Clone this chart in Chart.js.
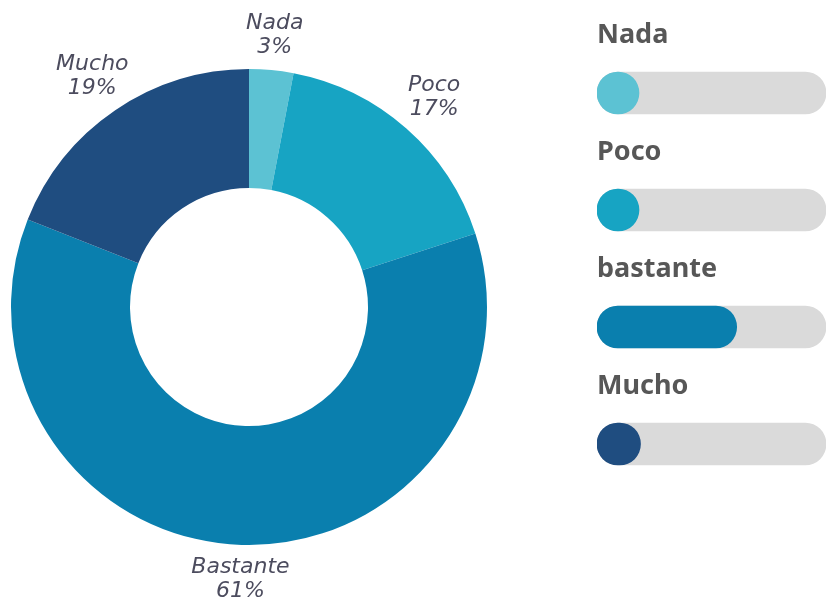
<!DOCTYPE html>
<html>
<head>
<meta charset="utf-8">
<script src="https://cdn.jsdelivr.net/npm/chart.js@4.4.1/dist/chart.umd.min.js"></script>
<style>
  html, body { margin: 0; padding: 0; background: #fff; }
  #wrap { position: relative; width: 826px; height: 600px; overflow: hidden; }
  #donut { position: absolute; left: 0; top: 0; }
  #bars { position: absolute; left: 597px; top: 0; }
</style>
</head>
<body>
<div id="wrap">
  <canvas id="donut" width="500" height="600"></canvas>
  <canvas id="bars" width="229" height="600"></canvas>
</div>
<script>
// Survey answers (percent)
const categories = ['Nada', 'Poco', 'Bastante', 'Mucho'];
const barLabels = ['Nada', 'Poco', 'bastante', 'Mucho'];
const percentages = [3, 17, 61, 19];
const colors = ['#5cc2d3', '#17a4c3', '#0a7fae', '#1f4d80'];
const trackValues = [100, 100, 100, 100];

// labels around the ring, placed at each slice's mid angle
const outsideLabels = {
  id: 'outsideLabels',
  afterDatasetsDraw(chart) {
    const ctx = chart.ctx;
    const meta = chart.getDatasetMeta(0);
    ctx.save();
    ctx.font = 'oblique 22px "DejaVu Sans", sans-serif';
    ctx.fillStyle = '#4c4c5e';
    ctx.textAlign = 'center';
    ctx.textBaseline = 'middle';
    meta.data.forEach((arc, i) => {
      const mid = (arc.startAngle + arc.endAngle) / 2;
      const r = arc.outerRadius + 34 + Math.abs(Math.cos(mid)) * 12;
      const x = arc.x + Math.cos(mid) * r;
      const y = arc.y + Math.sin(mid) * r;
      ctx.fillText(categories[i], x, y - 12);
      ctx.fillText(percentages[i] + '%', x, y + 12);
    });
    ctx.restore();
  }
};

new Chart(document.getElementById('donut'), {
  type: 'doughnut',
  data: {
    labels: categories,
    datasets: [{
      data: percentages,
      backgroundColor: colors,
      borderWidth: 0
    }]
  },
  options: {
    responsive: false,
    animation: false,
    cutout: '50%',
    layout: { padding: { left: 11, right: 13, top: 69, bottom: 55 } },
    plugins: { legend: { display: false }, tooltip: { enabled: false } }
  },
  plugins: [outsideLabels]
});

// category names written above each progress bar
const barTitles = {
  id: 'barTitles',
  afterDatasetsDraw(chart) {
    const ctx = chart.ctx;
    const meta = chart.getDatasetMeta(0);
    ctx.save();
    ctx.font = 'bold 27px "Noto Sans", sans-serif';
    ctx.fillStyle = '#575757';
    ctx.textAlign = 'left';
    ctx.textBaseline = 'middle';
    meta.data.forEach((bar, i) => {
      ctx.fillText(barLabels[i], chart.chartArea.left, bar.y - 58);
    });
    ctx.restore();
  }
};

new Chart(document.getElementById('bars'), {
  type: 'bar',
  data: {
    labels: barLabels,
    datasets: [
      {
        data: percentages,
        backgroundColor: colors,
        barThickness: 42,
        borderRadius: 21,
        borderSkipped: false,
        minBarLength: 42,
        grouped: false
      },
      {
        data: trackValues,
        backgroundColor: '#dadada',
        barThickness: 42,
        borderRadius: 21,
        borderSkipped: false,
        grouped: false
      }
    ]
  },
  options: {
    responsive: false,
    animation: false,
    indexAxis: 'y',
    layout: { padding: { left: 0, right: 0, top: 34.5, bottom: 97.5 } },
    scales: {
      x: { display: false, min: 0, max: 100 },
      y: { display: false }
    },
    plugins: { legend: { display: false }, tooltip: { enabled: false } }
  },
  plugins: [barTitles]
});
</script>
</body>
</html>
